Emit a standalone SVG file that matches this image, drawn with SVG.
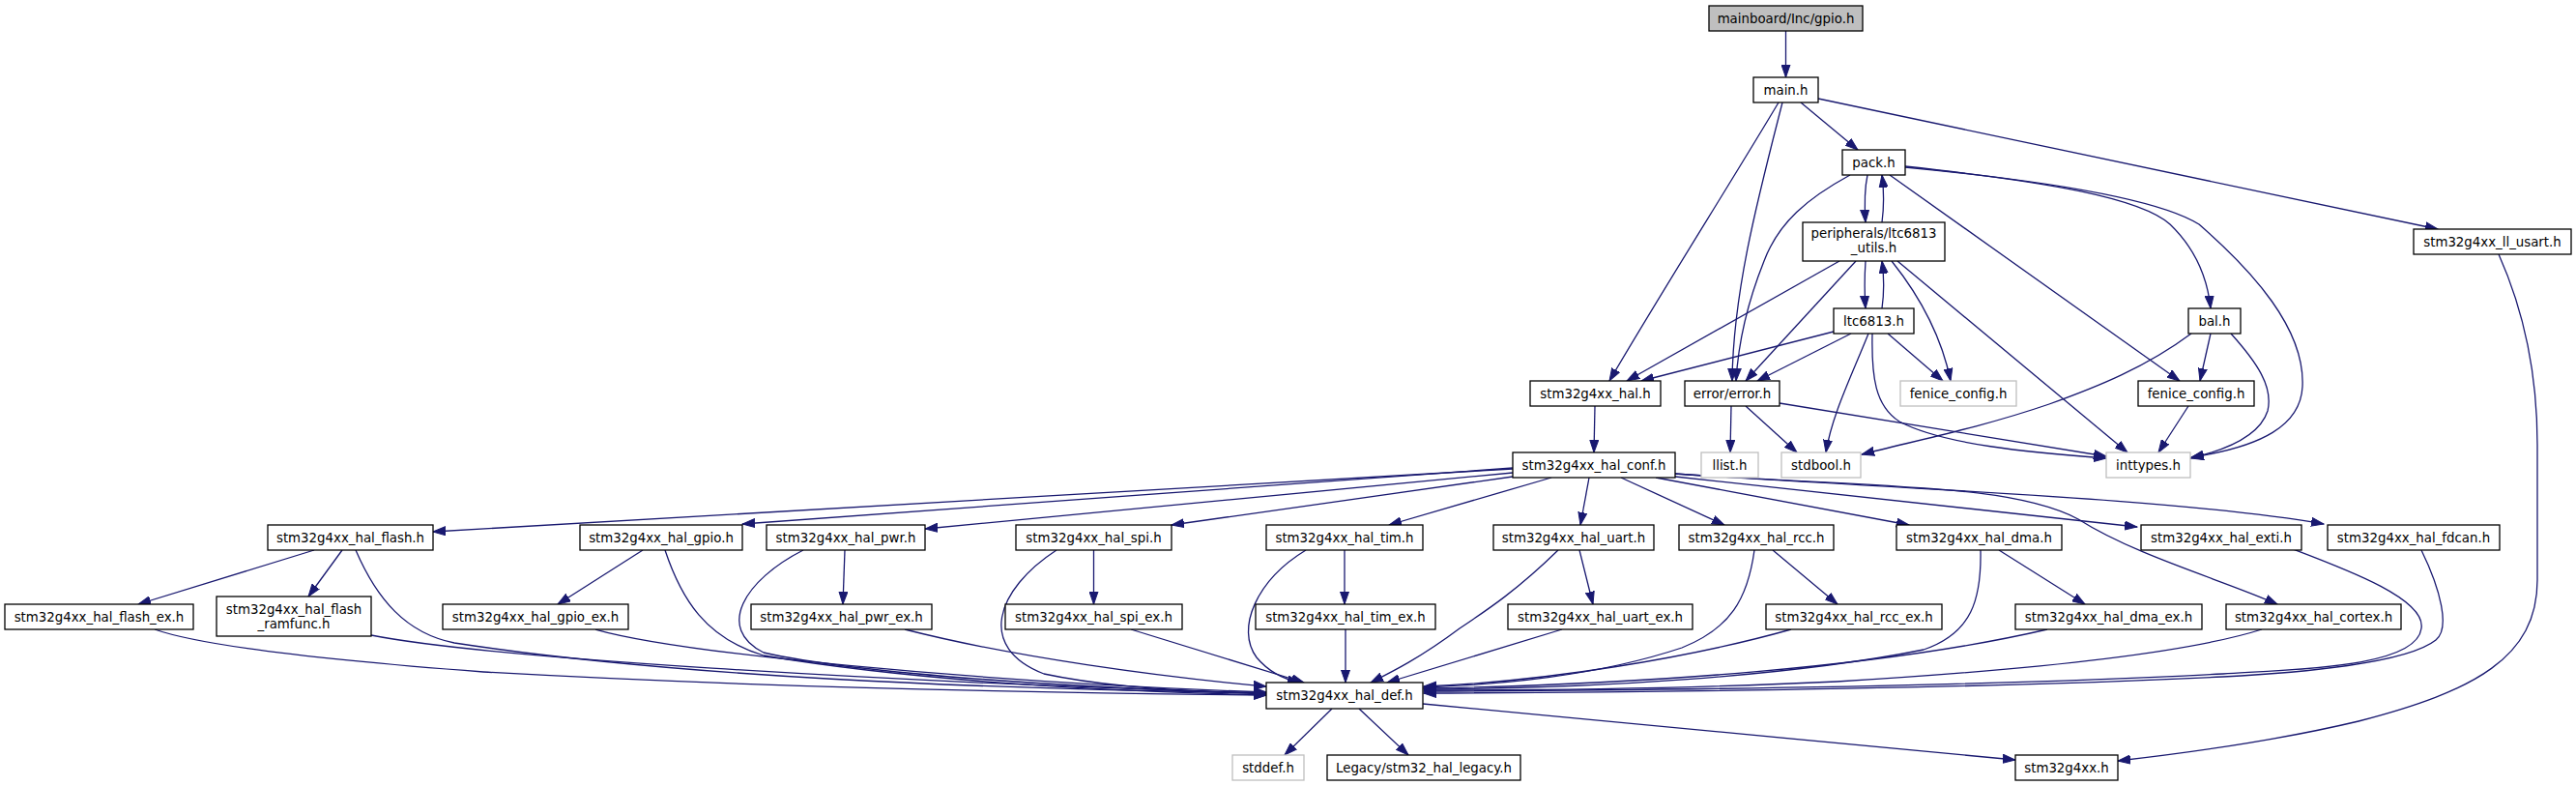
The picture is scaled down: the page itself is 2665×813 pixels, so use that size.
<svg xmlns="http://www.w3.org/2000/svg" width="2665" height="813" viewBox="0 0 2665 813">
<style>
rect{fill:#fff;stroke:#000;stroke-width:1.3}
rect.gr{stroke:#bfbfbf}
rect.root{fill:#bfbfbf}
text{font-family:"DejaVu Sans","Liberation Sans",sans-serif;font-size:13.33px;fill:#000;text-anchor:middle}
#edges path{fill:none;stroke:#191970;stroke-width:1.3;marker-end:url(#a)}
</style>
<defs>
<marker id="a" markerWidth="14" markerHeight="10" refX="13" refY="5" orient="auto" markerUnits="userSpaceOnUse"><path d="M0,0.5 L13,5 L0,9.5 z" fill="#191970" stroke="#191970" stroke-width="1"/></marker>
</defs>
<rect width="2665" height="813" style="fill:#fff;stroke:none"/>
<g id="edges">
<path d="M1847.5,32 L1847.5,80"/>
<path d="M1863,106 L1922,155"/>
<path d="M1840,106 C1790,190 1720,300 1665,394"/>
<path d="M1844,106 C1820,200 1793,300 1792,394"/>
<path d="M1881,102 L2522,237"/>
<path d="M1932,181 C1929,195 1929,215 1930,230"/>
<path d="M1947,230 C1949,215 1949,197 1947,181"/>
<path d="M1914,181 C1870,205 1840,230 1825,270 C1805,320 1798,360 1796,394"/>
<path d="M1971,172 C2120,188 2215,205 2245,232 C2272,258 2284,290 2287,319"/>
<path d="M1955,181 L2255,394"/>
<path d="M1971,173 C2150,190 2240,210 2275,232 C2330,280 2385,340 2382,400 C2380,440 2340,462 2267,473"/>
<path d="M1930,270 C1929,285 1929,305 1930,319"/>
<path d="M1947,319 C1949,305 1949,285 1947,270"/>
<path d="M1903,270 L1683,394"/>
<path d="M1920,270 L1806,394"/>
<path d="M1957,270 C1985,305 2008,345 2018,394"/>
<path d="M1963,270 L2201,468"/>
<path d="M1897,343 L1698,394"/>
<path d="M1915,345 L1818,394"/>
<path d="M1953,345 L2010,394"/>
<path d="M1933,345 C1915,390 1895,430 1889,468"/>
<path d="M1937,345 C1936,390 1940,420 1965,436 C2010,460 2100,468 2179,474"/>
<path d="M2267,345 C2220,380 2170,400 2120,418 C2050,442 1985,455 1926,470"/>
<path d="M2287,345 L2276,394"/>
<path d="M2308,345 C2335,375 2352,400 2346,425 C2338,450 2305,465 2266,474"/>
<path d="M2264,420 L2233,468"/>
<path d="M1791,420 L1790,468"/>
<path d="M1806,420 L1859,468"/>
<path d="M1841,417 L2179,472"/>
<path d="M1650,420 L1649,468"/>
<path d="M1565,485 L448,550"/>
<path d="M1565,484 L768,542"/>
<path d="M1565,489 L957,547"/>
<path d="M1565,493 L1212,543"/>
<path d="M1605,494 L1437,543"/>
<path d="M1644,494 L1635,543"/>
<path d="M1677,494 L1784,543"/>
<path d="M1713,494 L1975,543"/>
<path d="M1733,493 L2211,545"/>
<path d="M1733,490 C1950,505 2250,515 2404,542"/>
<path d="M1733,490 C1950,505 2080,500 2150,537 C2210,575 2300,600 2356,625"/>
<path d="M325,569 L143,625"/>
<path d="M354,569 L319,617"/>
<path d="M368,569 C390,620 420,655 470,665 C700,700 1000,712 1310,717"/>
<path d="M665,569 L577,625"/>
<path d="M688,569 C705,620 730,660 790,678 C950,705 1150,715 1310,719"/>
<path d="M874,569 L872,625"/>
<path d="M831,569 C770,600 740,650 790,675 C900,700 1150,712 1310,718"/>
<path d="M1131.5,569 L1131.5,625"/>
<path d="M1093,569 C1030,610 1010,670 1080,697 C1150,712 1250,716 1310,717"/>
<path d="M1391,569 L1391,625"/>
<path d="M1351,569 C1300,600 1278,650 1300,680 C1315,698 1335,704 1345,706"/>
<path d="M1634,569 L1648,625"/>
<path d="M1612,569 C1570,610 1540,630 1510,650 C1470,680 1440,695 1418,706"/>
<path d="M1834,569 L1901,625"/>
<path d="M1815,569 C1808,620 1790,650 1740,670 C1650,700 1550,708 1473,711"/>
<path d="M2068,569 L2157,625"/>
<path d="M2049,569 C2050,620 2040,655 1990,672 C1850,700 1650,712 1473,713"/>
<path d="M2372,568 C2430,590 2510,620 2505,650 C2500,690 2380,692 2300,697 C2050,710 1700,714 1473,715"/>
<path d="M2505,569 C2525,610 2535,650 2520,662 C2490,686 2380,696 2300,700 C2050,712 1700,716 1473,717"/>
<path d="M160,651 C200,665 300,680 500,695 C800,712 1100,717 1310,719"/>
<path d="M384,657 C500,680 900,705 1310,717"/>
<path d="M616,651 C700,675 1000,705 1310,716"/>
<path d="M936,651 C1050,680 1200,700 1310,710"/>
<path d="M1170,651 L1349,706"/>
<path d="M1392,651 L1392,706"/>
<path d="M1616,651 L1435,706"/>
<path d="M1853,651 C1750,680 1600,705 1473,710"/>
<path d="M2118,651 C1950,690 1700,708 1473,712"/>
<path d="M2340,651 C2280,670 2150,690 1900,705 C1750,712 1600,714 1473,714"/>
<path d="M1378,733 L1329,781"/>
<path d="M1406,733 L1457,781"/>
<path d="M1472,728 L2085,786"/>
<path d="M2585,263 C2615,330 2625,400 2625,460 L2625,600 C2625,680 2560,715 2440,746 C2360,765 2270,778 2191,787"/>
</g>
<g id="n_gpio"><rect class="root" x="1768" y="6" width="159" height="26"/><text x="1847.5" y="23.5">mainboard/Inc/gpio.h</text></g>
<g id="n_main"><rect x="1814" y="80" width="67" height="26"/><text x="1847.5" y="97.5">main.h</text></g>
<g id="n_pack"><rect x="1906" y="155" width="65" height="26"/><text x="1938.5" y="172.5">pack.h</text></g>
<g id="n_periph"><rect x="1865" y="230" width="147" height="40"/><text x="1938.5" y="246">peripherals/ltc6813</text><text x="1938.5" y="261">_utils.h</text></g>
<g id="n_llusart"><rect x="2497" y="237" width="163" height="26"/><text x="2578.5" y="254.5">stm32g4xx_ll_usart.h</text></g>
<g id="n_ltc"><rect x="1897" y="319" width="83" height="26"/><text x="1938.5" y="336.5">ltc6813.h</text></g>
<g id="n_bal"><rect x="2264" y="319" width="54" height="26"/><text x="2291" y="336.5">bal.h</text></g>
<g id="n_hal"><rect x="1583" y="394" width="135" height="26"/><text x="1650.5" y="411.5">stm32g4xx_hal.h</text></g>
<g id="n_error"><rect x="1743" y="394" width="98" height="26"/><text x="1792" y="411.5">error/error.h</text></g>
<g id="n_fenice1"><rect class="gr" x="1966" y="394" width="120" height="26"/><text x="2026" y="411.5">fenice_config.h</text></g>
<g id="n_fenice2"><rect x="2212" y="394" width="120" height="26"/><text x="2272" y="411.5">fenice_config.h</text></g>
<g id="n_conf"><rect x="1565" y="468" width="168" height="26"/><text x="1649" y="485.5">stm32g4xx_hal_conf.h</text></g>
<g id="n_llist"><rect class="gr" x="1760" y="468" width="59" height="26"/><text x="1789.5" y="485.5">llist.h</text></g>
<g id="n_stdbool"><rect class="gr" x="1843" y="468" width="82" height="26"/><text x="1884" y="485.5">stdbool.h</text></g>
<g id="n_inttypes"><rect class="gr" x="2179" y="468" width="87" height="26"/><text x="2222.5" y="485.5">inttypes.h</text></g>
<g id="n_flash"><rect x="277" y="543" width="171" height="26"/><text x="362.5" y="560.5">stm32g4xx_hal_flash.h</text></g>
<g id="n_gpio2"><rect x="600" y="543" width="168" height="26"/><text x="684" y="560.5">stm32g4xx_hal_gpio.h</text></g>
<g id="n_pwr"><rect x="793" y="543" width="164" height="26"/><text x="875" y="560.5">stm32g4xx_hal_pwr.h</text></g>
<g id="n_spi"><rect x="1051" y="543" width="161" height="26"/><text x="1131.5" y="560.5">stm32g4xx_hal_spi.h</text></g>
<g id="n_tim"><rect x="1310" y="543" width="162" height="26"/><text x="1391" y="560.5">stm32g4xx_hal_tim.h</text></g>
<g id="n_uart"><rect x="1545" y="543" width="166" height="26"/><text x="1628" y="560.5">stm32g4xx_hal_uart.h</text></g>
<g id="n_rcc"><rect x="1737" y="543" width="160" height="26"/><text x="1817" y="560.5">stm32g4xx_hal_rcc.h</text></g>
<g id="n_dma"><rect x="1962" y="543" width="171" height="26"/><text x="2047.5" y="560.5">stm32g4xx_hal_dma.h</text></g>
<g id="n_exti"><rect x="2215" y="543" width="166" height="26"/><text x="2298" y="560.5">stm32g4xx_hal_exti.h</text></g>
<g id="n_fdcan"><rect x="2408" y="543" width="178" height="26"/><text x="2497" y="560.5">stm32g4xx_hal_fdcan.h</text></g>
<g id="n_flashex"><rect x="5" y="625" width="195" height="26"/><text x="102.5" y="642.5">stm32g4xx_hal_flash_ex.h</text></g>
<g id="n_ramfunc"><rect x="224" y="617" width="160" height="41"/><text x="304" y="634.5">stm32g4xx_hal_flash</text><text x="304" y="649.5">_ramfunc.h</text></g>
<g id="n_gpioex"><rect x="458" y="625" width="192" height="26"/><text x="554" y="642.5">stm32g4xx_hal_gpio_ex.h</text></g>
<g id="n_pwrex"><rect x="777" y="625" width="187" height="26"/><text x="870.5" y="642.5">stm32g4xx_hal_pwr_ex.h</text></g>
<g id="n_spiex"><rect x="1040" y="625" width="183" height="26"/><text x="1131.5" y="642.5">stm32g4xx_hal_spi_ex.h</text></g>
<g id="n_timex"><rect x="1299" y="625" width="186" height="26"/><text x="1392" y="642.5">stm32g4xx_hal_tim_ex.h</text></g>
<g id="n_uartex"><rect x="1560" y="625" width="191" height="26"/><text x="1655.5" y="642.5">stm32g4xx_hal_uart_ex.h</text></g>
<g id="n_rccex"><rect x="1827" y="625" width="182" height="26"/><text x="1918" y="642.5">stm32g4xx_hal_rcc_ex.h</text></g>
<g id="n_dmaex"><rect x="2085" y="625" width="193" height="26"/><text x="2181.5" y="642.5">stm32g4xx_hal_dma_ex.h</text></g>
<g id="n_cortex"><rect x="2303" y="625" width="181" height="26"/><text x="2393.5" y="642.5">stm32g4xx_hal_cortex.h</text></g>
<g id="n_def"><rect x="1310" y="706" width="162" height="27"/><text x="1391" y="724">stm32g4xx_hal_def.h</text></g>
<g id="n_stddef"><rect class="gr" x="1275" y="781" width="74" height="26"/><text x="1312" y="798.5">stddef.h</text></g>
<g id="n_legacy"><rect x="1373" y="781" width="200" height="26"/><text x="1473" y="798.5">Legacy/stm32_hal_legacy.h</text></g>
<g id="n_stm32"><rect x="2085" y="781" width="106" height="26"/><text x="2138" y="798.5">stm32g4xx.h</text></g>
</svg>
